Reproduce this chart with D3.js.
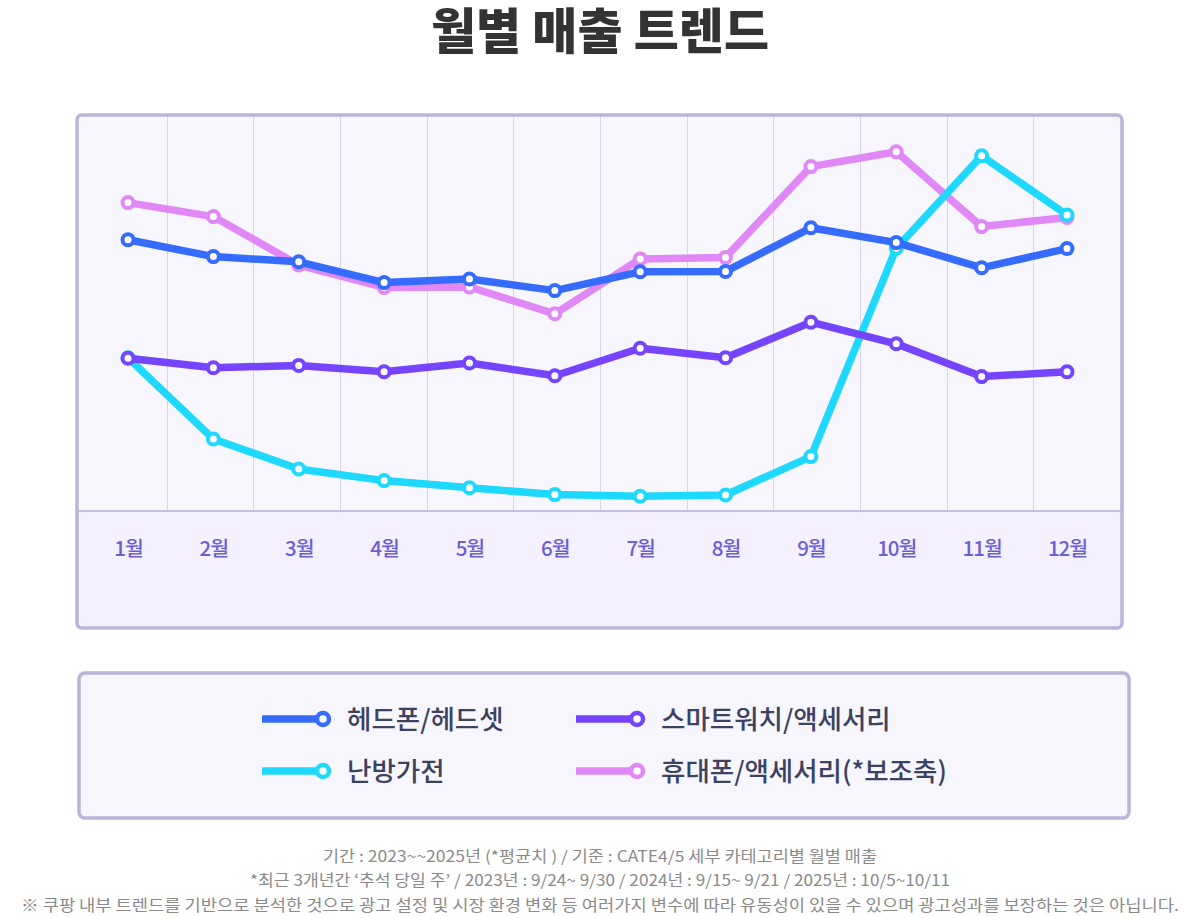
<!DOCTYPE html>
<html>
<head>
<meta charset="utf-8">
<script src="https://cdn.jsdelivr.net/npm/d3@7"></script>
<style>
body { margin: 0; background: #fff; }
text { font-family: "Noto Sans CJK KR", "Noto Sans", sans-serif; }
</style>
</head>
<body>
<div id="vis"></div>
<script>
var w = 1200;
var h = 918;

// data (y axis has no labels, values are relative units)
var months = ["1월", "2월", "3월", "4월", "5월", "6월", "7월", "8월", "9월", "10월", "11월", "12월"];
var headphone = [67.8, 63.6, 62.3, 57.1, 58.0, 55.1, 59.8, 59.9, 70.8, 67.1, 60.8, 65.6];
var smartwatch = [38.2, 35.8, 36.4, 34.8, 37.0, 33.8, 40.7, 38.3, 47.2, 41.8, 33.6, 34.8];
var heater = [38.3, 18.0, 10.5, 7.6, 5.8, 4.1, 3.7, 4.0, 13.6, 65.7, 88.8, 74.0];
var phone = [77.1, 73.6, 61.5, 55.9, 56.0, 49.3, 63.0, 63.4, 86.1, 89.8, 71.1, 73.4]; // 보조축

var seriesNames = ["헤드폰/헤드셋", "스마트워치/액세서리", "난방가전", "휴대폰/액세서리(*보조축)"];
var seriesColors = ["#356cff", "#7444ff", "#1ed8fd", "#e088f6"];

var footerLines = [
	"기간 : 2023~~2025년 (*평균치 ) / 기준 : CATE4/5 세부 카테고리별 월별 매출",
	"*최근 3개년간 ‘추석 당일 주’ / 2023년 : 9/24~ 9/30 / 2024년 : 9/15~ 9/21 / 2025년 : 10/5~10/11",
	"※  쿠팡 내부 트렌드를 기반으로 분석한 것으로 광고 설정 및 시장 환경 변화 등 여러가지 변수에 따라 유동성이 있을 수 있으며 광고성과를 보장하는 것은 아닙니다."
];

var svg = d3.select("#vis")
	.append("svg")
	.attr("width", w)
	.attr("height", h);

//titel
svg.append("text")
	.text("월별 매출 트렌드")
	.attr("x", w / 2)
	.attr("y", 49)
	.attr("text-anchor", "middle")
	.attr("fill", "#333333")
	.style("font-size", "49px")
	.style("font-weight", 900);

//chart box
var box = {x: 77, y: 115, x2: 1122, y2: 628};
var axisY = 511;

svg.append("rect")
	.attr("x", box.x)
	.attr("y", box.y)
	.attr("width", box.x2 - box.x)
	.attr("height", box.y2 - box.y)
	.attr("rx", 5)
	.attr("fill", "#f4f0fe");
svg.append("rect")
	.attr("x", box.x)
	.attr("y", box.y)
	.attr("width", box.x2 - box.x)
	.attr("height", axisY - box.y)
	.attr("fill", "#f7f6fc");

var x = d3.scalePoint().domain(months).range([128, 1067]);
var xband = d3.scaleBand().domain(months).range([80, 1120]);
var y = d3.scaleLinear().domain([0, 100]).range([axisY, 111]);
var y2 = d3.scaleLinear().domain([0, 100]).range([axisY, 111]);

//hulplijnen
svg.selectAll(".grid")
	.data(months.slice(1))
	.enter()
	.append("line")
	.attr("class", "grid")
	.attr("x1", function(d) { return Math.round(xband(d)) + 0.5; })
	.attr("x2", function(d) { return Math.round(xband(d)) + 0.5; })
	.attr("y1", box.y)
	.attr("y2", axisY)
	.attr("stroke", "#d9d5e8")
	.attr("stroke-width", 1);

svg.append("line")
	.attr("x1", box.x)
	.attr("x2", box.x2)
	.attr("y1", axisY)
	.attr("y2", axisY)
	.attr("stroke", "#c6c0e0")
	.attr("stroke-width", 2);

//x labels
var xAxis = svg.append("g")
	.attr("transform", "translate(0," + axisY + ")")
	.call(d3.axisBottom(x).tickSize(0).tickPadding(30));
xAxis.select(".domain").remove();
xAxis.selectAll("text")
	.attr("fill", "#6c5fd2")
	.style("font-size", "20.5px")
	.style("font-weight", 500)
	.style("letter-spacing", "-1px")
	.style("font-family", "'Noto Sans CJK KR', sans-serif");

svg.append("rect")
	.attr("x", box.x)
	.attr("y", box.y)
	.attr("width", box.x2 - box.x)
	.attr("height", box.y2 - box.y)
	.attr("rx", 5)
	.attr("fill", "none")
	.attr("stroke", "#bab4d9")
	.attr("stroke-width", 3.5);

//lijnen, onderste eerst
var series = [
	{name: seriesNames[3], values: phone, color: seriesColors[3], scale: y2},
	{name: seriesNames[2], values: heater, color: seriesColors[2], scale: y},
	{name: seriesNames[1], values: smartwatch, color: seriesColors[1], scale: y},
	{name: seriesNames[0], values: headphone, color: seriesColors[0], scale: y}
];

series.forEach(function(s) {
	var line = d3.line()
		.x(function(d, i) { return x(months[i]); })
		.y(function(d) { return s.scale(d); });
	var g = svg.append("g");
	g.append("path")
		.datum(s.values)
		.attr("d", line)
		.attr("fill", "none")
		.attr("stroke", s.color)
		.attr("stroke-width", 7.5)
		.attr("stroke-linejoin", "round");
	g.selectAll("circle")
		.data(s.values)
		.enter()
		.append("circle")
		.attr("cx", function(d, i) { return x(months[i]); })
		.attr("cy", function(d) { return s.scale(d); })
		.attr("r", 5.5)
		.attr("fill", "#ffffff")
		.attr("stroke", s.color)
		.attr("stroke-width", 4);
});

//legenda
svg.append("rect")
	.attr("x", 79)
	.attr("y", 673)
	.attr("width", 1050)
	.attr("height", 145)
	.attr("rx", 6)
	.attr("fill", "#f7f6fc")
	.attr("stroke", "#bab4d9")
	.attr("stroke-width", 3.5);

var legendPos = [
	{x: 262, y: 719},
	{x: 576, y: 719},
	{x: 262, y: 771},
	{x: 576, y: 771}
];

var leg = svg.selectAll(".legend")
	.data(seriesNames)
	.enter()
	.append("g")
	.attr("class", "legend")
	.attr("transform", function(d, i) { return "translate(" + legendPos[i].x + "," + legendPos[i].y + ")"; });

leg.append("line")
	.attr("x1", 0)
	.attr("x2", 60)
	.attr("y1", 0)
	.attr("y2", 0)
	.attr("stroke", function(d, i) { return seriesColors[i]; })
	.attr("stroke-width", 7.5);
leg.append("circle")
	.attr("cx", 61)
	.attr("cy", 0)
	.attr("r", 6)
	.attr("fill", "#ffffff")
	.attr("stroke", function(d, i) { return seriesColors[i]; })
	.attr("stroke-width", 4.5);
leg.append("text")
	.text(function(d) { return d; })
	.attr("x", 85)
	.attr("y", 0)
	.attr("dy", "0.36em")
	.attr("fill", "#3b4262")
	.style("font-size", "26.5px")
	.style("font-weight", 500);

//voetnoot
var footerY = [862, 886, 911];
var footerW = [554, 700, 1158];
svg.selectAll(".footer")
	.data(footerLines)
	.enter()
	.append("text")
	.attr("class", "footer")
	.text(function(d) { return d; })
	.attr("x", w / 2)
	.attr("y", function(d, i) { return footerY[i]; })
	.attr("text-anchor", "middle")
	.attr("textLength", function(d, i) { return footerW[i]; })
	.attr("lengthAdjust", "spacingAndGlyphs")
	.attr("fill", "#8a8a8a")
	.style("font-size", "15.5px");
</script>
</body>
</html>
